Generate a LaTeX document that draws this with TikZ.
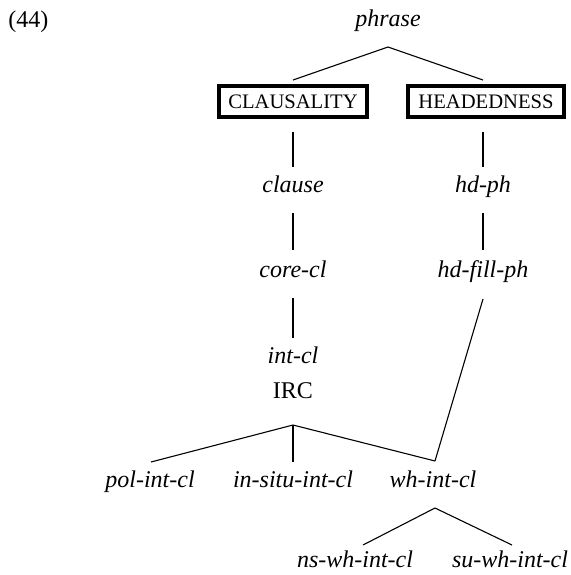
\documentclass[tikz,border=0pt]{standalone}
\usepackage{fontspec}
\setmainfont{Liberation Serif}
\usetikzlibrary{calc}
\begin{document}
\begin{tikzpicture}[x=0.5pt,y=-0.5pt,
  type/.style={font=\fontsize{12}{14}\selectfont\itshape, anchor=base, inner sep=0pt},
  plain/.style={font=\fontsize{12}{14}\selectfont, anchor=base, inner sep=0pt},
  dimbox/.style={draw, line width=2pt, font=\fontsize{10.3}{12}\selectfont,
    inner xsep=4.5pt, inner ysep=0pt, minimum height=15.5pt, anchor=center},
  edge/.style={line width=0.55pt}]
\useasboundingbox (0,0) rectangle (571,575);

% example number
\node[plain, anchor=base west] (num) at (8,27) {(44)};

% type hierarchy
\node[type] (phrase) at (388,26) {phrase};
\node[dimbox] (claus) at (293,101.5) {CLAUSALITY};
\node[dimbox, minimum width=78pt] (head) at (486,101.5) {HEADEDNESS};

\node[type] (clause) at (293,192) {clause};
\node[type] (corecl) at (293,277) {core-cl};
\node[type] (intcl) at (293,363) {int-cl};
\node[plain] (irc) at (293,398) {IRC};

\node[type] (hdph) at (483,192) {hd-ph};
\node[type] (hdfill) at (483,277) {hd-fill-ph};

\node[type] (polint) at (150,487) {pol-int-cl};
\node[type] (insitu) at (293,487) {in-situ-int-cl};
\node[type] (whint) at (433,487) {wh-int-cl};

\node[type] (nswh) at (355,567) {ns-wh-int-cl};
\node[type] (suwh) at (510,567) {su-wh-int-cl};

% branching points
\coordinate (topfork) at ($(phrase.base)+(0,21)$);
\coordinate (ircfork) at ($(irc.base)+(0,27)$);
\coordinate (whfork) at ($(whint.base)+(2,21)$);

% connectors
\draw[edge] ($(claus.north)+(0,-4)$) -- (topfork) -- ($(head.north)+(-3,-4)$);

\draw[edge] ($(claus.south)+(0,13)$) -- ($(clause.base)+(0,-25)$);
\draw[edge] ($(clause.base)+(0,21)$) -- ($(corecl.base)+(0,-27)$);
\draw[edge] ($(corecl.base)+(0,21)$) -- ($(intcl.base)+(0,-25)$);

\draw[edge] ($(head.south)+(-3,13)$) -- ($(hdph.base)+(0,-25)$);
\draw[edge] ($(hdph.base)+(0,21)$) -- ($(hdfill.base)+(0,-27)$);
\draw[edge] ($(hdfill.base)+(0,22)$) -- ($(whint.base)+(2,-26)$);

\draw[edge] ($(polint.base)+(1,-25)$) -- (ircfork) -- ($(whint.base)+(2,-26)$);
\draw[edge] (ircfork) -- ($(insitu.base)+(0,-25)$);

\draw[edge] ($(nswh.base)+(8,-22)$) -- (whfork) -- ($(suwh.base)+(2,-22)$);
\end{tikzpicture}
\end{document}
